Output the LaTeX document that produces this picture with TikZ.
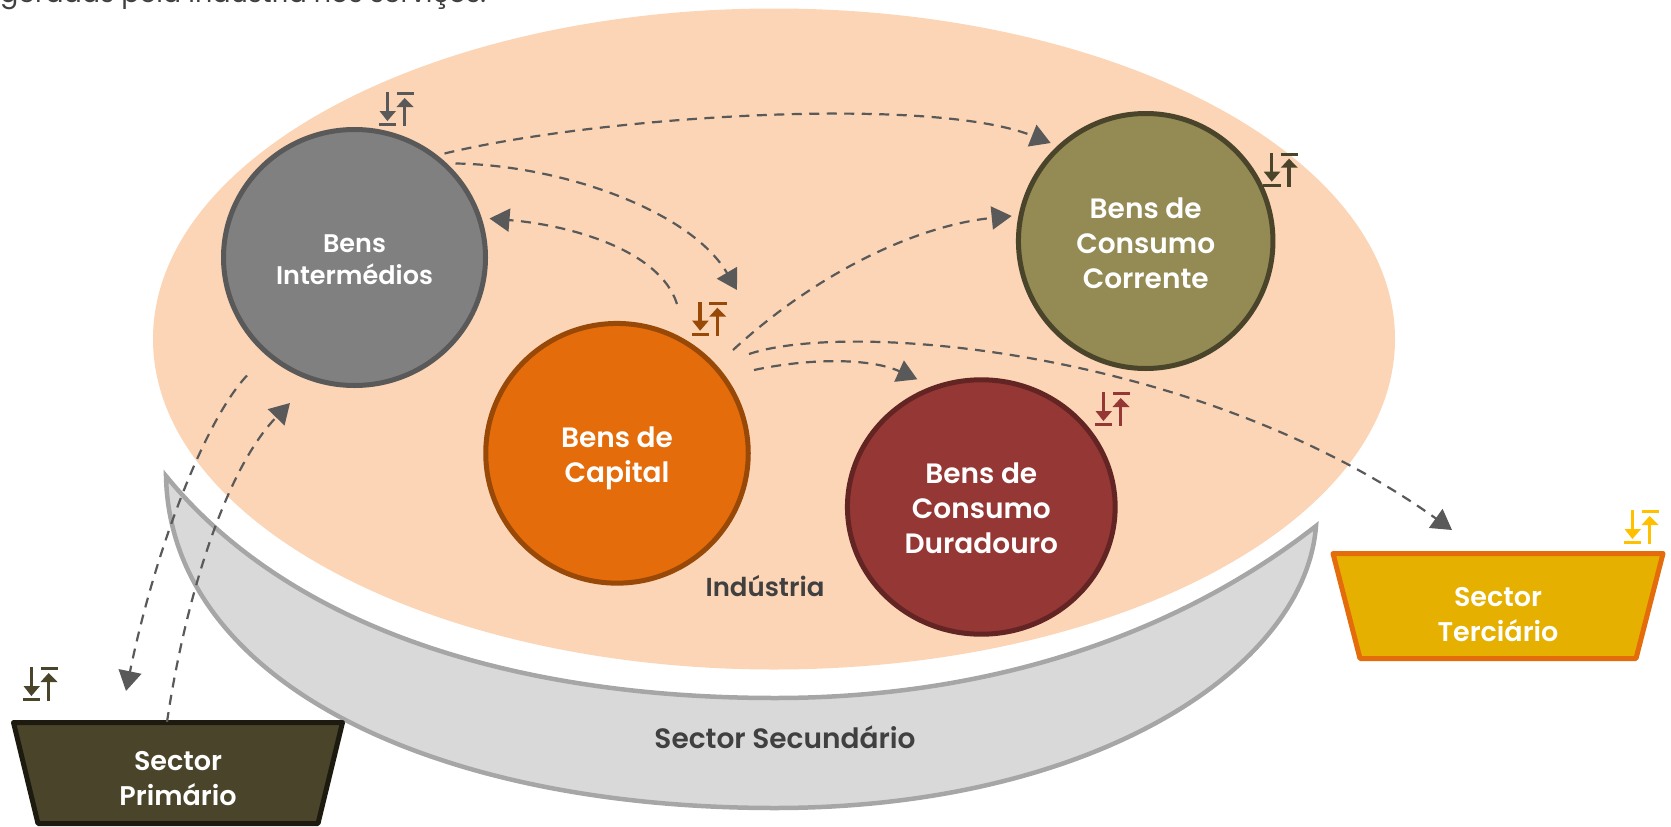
\documentclass[tikz,border=0pt]{standalone}
\usepackage{fontspec}
\setmainfont[BoldFont={Poppins SemiBold}]{Poppins}
\usetikzlibrary{shapes.geometric,arrows.meta,calc}
\definecolor{peach}{HTML}{FBD5B5}
\definecolor{inkgray}{HTML}{595959}
\definecolor{labelgray}{HTML}{404040}
\definecolor{HTMLorange}{HTML}{E46C0A}
\definecolor{HTMLorangeD}{HTML}{984807}
\definecolor{HTMLolive}{HTML}{948A54}
\definecolor{HTMLoliveD}{HTML}{4A452A}
\definecolor{HTMLred}{HTML}{953735}
\definecolor{HTMLredD}{HTML}{632523}
\definecolor{HTMLdark}{HTML}{1D1B10}
\definecolor{HTMLgold}{HTML}{E6B000}
\definecolor{HTMLamber}{HTML}{FFC000}
\tikzset{
  bubble/.style={ellipse,draw,line width=5pt,inner sep=0pt,outer sep=0pt},
  bubbletext/.style={text=white,font=\fontsize{28}{35}\selectfont\bfseries,align=center,inner sep=0pt},
  sectorbox/.style={draw,line width=5pt,line join=round},
  boxlabel/.style={text=white,font=\fontsize{27}{35}\selectfont\bfseries,align=center,inner sep=0pt},
  plainlabel/.style={text=labelgray,font=\fontsize{26}{30}\selectfont\bfseries,inner sep=0pt},
  flow/.style={draw=inkgray,line width=2.2pt,dash pattern=on 10pt off 7.5pt,-{Triangle[length=20pt,width=23pt,fill=inkgray]}},
  flowicon/.pic={
    \fill[pic actions] (6.7,0) rectangle (10,21);
    \fill[pic actions] (0.5,19) -- (17,19) -- (8.4,29) -- cycle;
    \fill[pic actions] (0,31) rectangle (17.3,34.3);
    \fill[pic actions] (24,12) rectangle (27.3,34.3);
    \fill[pic actions] (17.5,15) -- (34.5,15) -- (25.7,6) -- cycle;
    \fill[pic actions] (17.5,0) rectangle (35,3.3);
  }
}
\begin{document}
\begin{tikzpicture}[x=1pt,y=-1pt]
\useasboundingbox (0,0) rectangle (1671,827);
\clip (0,0) rectangle (1671,827);
\node[anchor=base west,inner sep=0pt,text=labelgray,font=\fontsize{27}{30}\selectfont] (intro) at (0,2.5) {geradas pela indústria nos serviços.};
% crescent
\filldraw[fill=black!15,draw=black!35,line width=4.5pt,line join=miter]
  (166,476) .. controls (170,680) and (430,808) .. (775,808)
  .. controls (1090,808) and (1305,670) .. (1316,526)
  .. controls (1170,640) and (980,698) .. (775,698)
  .. controls (540,698) and (300,640) .. (166,476) -- cycle;
\node[ellipse,fill=peach,inner sep=0pt,outer sep=0pt,minimum width=1242pt,minimum height=661pt] (ind) at (774,339) {};
\node[bubble,fill=black!50,draw=inkgray,minimum width=262pt,minimum height=256pt,label={[bubbletext,font=\fontsize{25.5}{32}\selectfont\bfseries,yshift=-2pt]center:{Bens\\Intermédios}}] (I) at (354.5,257.5) {};
\node[bubble,fill=HTMLorange,draw=HTMLorangeD,minimum width=262.5pt,minimum height=259.7pt,label={[bubbletext,yshift=-5pt]center:{Bens de\\Capital}}] (cap) at (617,453.3) {};
\node[bubble,fill=HTMLolive,draw=HTMLoliveD,minimum width=254.5pt,minimum height=255pt,label={[bubbletext,yshift=-2pt]center:{Bens de\\Consumo\\Corrente}}] (cor) at (1145.7,241) {};
\node[bubble,fill=HTMLred,draw=HTMLredD,minimum width=267.7pt,minimum height=254.4pt,label={[bubbletext,yshift=-1pt]center:{Bens de\\Consumo\\Duradouro}}] (dur) at (981.3,507) {};
\coordinate (pri) at (178,773);
\coordinate (ter) at (1498,606);
\filldraw[sectorbox,fill=HTMLoliveD,draw=HTMLdark] ([shift={(-164.5,-50.5)}]pri) -- ([shift={(164.5,-50.5)}]pri) -- ([shift={(140,50.5)}]pri) -- ([shift={(-140,50.5)}]pri) -- cycle;
\filldraw[sectorbox,fill=HTMLgold,draw=HTMLorange] ([shift={(-165,-52.5)}]ter) -- ([shift={(165,-52.5)}]ter) -- ([shift={(138,52.5)}]ter) -- ([shift={(-138,52.5)}]ter) -- cycle;
\node[boxlabel] (pril) at (178,779) {Sector\\Primário};
\node[boxlabel] (terl) at (1498,615) {Sector\\Terciário};
\node[plainlabel] (indl) at (765,586) {Indústria};
\node[plainlabel,font=\fontsize{28}{30}\selectfont\bfseries] (secl) at (785,737) {Sector Secundário};
% connectors
\draw[flow] ([shift={(90,-104)}]I.center) .. controls (600,116) and (930,95) .. ([shift={(-95,-98)}]cor.center);
\draw[flow] ([shift={(101,-94)}]I.center) .. controls (560,165) and (690,210) .. ([shift={(120,-163.3)}]cap.center);
\draw[flow] ([shift={(60,-149.3)}]cap.center) .. controls (660,250) and (570,225) .. ([shift={(135,-39)}]I.center);
\draw[flow] ([shift={(116,-103.3)}]cap.center) .. controls (820,270) and (920,225) .. ([shift={(-134,-25)}]cor.center);
\draw[flow] ([shift={(137,-83.3)}]cap.center) .. controls (810,358) and (870,358) .. ([shift={(-64,-127.7)}]dur.center);
\draw[flow] ([shift={(132,-99.3)}]cap.center) .. controls (850,320) and (1200,350) .. ([shift={(-46,-76)}]ter);
\draw[flow] ([shift={(-107.5,118)}]I.center) .. controls (205,420) and (155,550) .. ([shift={(-52,-82)}]pri);
\draw[flow] ([shift={(-11,-51)}]pri) .. controls (185,600) and (225,470) .. ([shift={(-64.5,145.5)}]I.center);
% icons
\pic[fill=inkgray] at (379,92) {flowicon};
\pic[fill=HTMLorangeD] at (691.7,301.7) {flowicon};
\pic[fill=HTMLoliveD] at (1263.3,152.7) {flowicon};
\pic[fill=HTMLred] at (1095,392) {flowicon};
\pic[fill=HTMLoliveD] at (23,667) {flowicon};
\pic[fill=HTMLamber] at (1624,510) {flowicon};
\end{tikzpicture}
\end{document}
